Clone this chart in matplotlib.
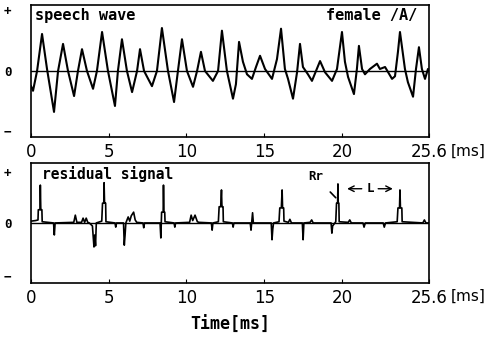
import matplotlib
matplotlib.use('Agg')
import matplotlib.pyplot as plt

# speech wave (female /A/): time [ms], amplitude
speech_t = [0.00, 0.13, 0.39, 0.71, 1.03, 1.48, 1.74, 2.06, 2.38, 2.77,
            3.02, 3.28, 3.60, 3.99, 4.24, 4.57, 4.95, 5.40, 5.59, 5.85,
            6.17, 6.50, 6.82, 7.01, 7.27, 7.78, 8.10, 8.42, 8.81, 9.20,
            9.45, 9.71, 10.03, 10.42, 10.68, 10.93, 11.19, 11.70, 12.03, 12.28,
            12.60, 12.99, 13.18, 13.38, 13.63, 13.89, 14.21, 14.47, 14.73, 15.05,
            15.50, 15.82, 16.08, 16.33, 16.53, 16.85, 17.11, 17.30, 17.49, 17.81,
            18.07, 18.59, 18.91, 19.36, 19.68, 20.00, 20.19, 20.39, 20.77, 20.96,
            21.09, 21.29, 21.48, 21.80, 22.25, 22.44, 22.77, 23.22, 23.41, 23.60,
            23.73, 24.05, 24.24, 24.57, 24.76, 24.95, 25.14, 25.34, 25.53, 25.60]
speech_v = [-0.23, -0.30, 0.00, 0.56, 0.03, -0.62, 0.00, 0.41, 0.00, -0.38,
            0.00, 0.33, 0.00, -0.27, 0.00, 0.59, 0.00, -0.53, 0.00, 0.48,
            0.00, -0.32, 0.00, 0.33, 0.00, -0.23, 0.00, 0.65, 0.00, -0.47,
            0.00, 0.48, 0.00, -0.24, 0.00, 0.29, 0.00, -0.15, 0.00, 0.61,
            0.00, -0.42, -0.20, 0.44, 0.14, -0.05, -0.12, 0.06, 0.23, 0.03,
            -0.12, 0.18, 0.64, 0.03, -0.12, -0.42, -0.02, 0.41, 0.06, -0.05,
            -0.15, 0.15, -0.02, -0.15, 0.03, 0.59, 0.14, -0.09, -0.35, 0.03,
            0.38, 0.03, -0.05, 0.03, 0.11, 0.03, 0.06, -0.12, -0.08, 0.29,
            0.59, 0.03, -0.17, -0.39, 0.03, 0.36, 0.03, -0.12, 0.03, 0.00]

# LPC residual signal
resid_t = [0.00, 0.30, 0.45, 0.47, 0.58, 0.60, 0.63, 0.70, 0.72, 1.45,
           1.50, 1.55, 2.75, 2.85, 2.95, 3.25, 3.35, 3.45, 3.55, 3.65,
           3.75, 3.95, 4.05, 4.10, 4.15, 4.20, 4.55, 4.60, 4.68, 4.70,
           4.73, 4.80, 4.82, 5.40, 5.45, 5.50, 5.95, 6.00, 6.05, 6.10,
           6.25, 6.35, 6.45, 6.60, 6.70, 6.80, 7.20, 7.25, 7.30, 8.30,
           8.35, 8.40, 8.50, 8.52, 8.55, 8.60, 8.62, 9.20, 9.25, 9.30,
           10.20, 10.30, 10.40, 10.55, 10.70, 10.80, 11.60, 11.65, 11.70, 12.05,
           12.10, 12.20, 12.25, 12.28, 12.35, 12.37, 12.95, 13.00, 13.05, 14.10,
           14.15, 14.25, 14.30, 15.45, 15.50, 15.55, 15.60, 15.95, 16.00, 16.10,
           16.15, 16.18, 16.25, 16.27, 16.55, 16.65, 16.75, 17.45, 17.50, 17.55,
           17.95, 18.05, 18.15, 19.30, 19.35, 19.40, 19.60, 19.65, 19.72, 19.74,
           19.76, 19.80, 19.82, 20.40, 20.50, 20.60, 21.35, 21.42, 21.50, 22.65,
           22.72, 22.80, 23.55, 23.60, 23.70, 23.73, 23.76, 23.85, 23.87, 25.20,
           25.30, 25.40, 25.60]
resid_v = [0.03, 0.04, 0.05, 0.22, 0.22, 0.63, 0.22, 0.22, 0.02, 0.00,
           -0.20, 0.00, 0.01, 0.13, 0.01, 0.01, 0.08, 0.01, 0.08, 0.01,
           0.00, -0.05, -0.40, -0.20, -0.38, 0.00, 0.03, 0.33, 0.33, 0.67,
           0.33, 0.33, 0.02, 0.00, -0.07, 0.00, 0.00, -0.37, -0.20, 0.00,
           0.10, 0.03, 0.12, 0.18, 0.05, 0.01, 0.00, -0.08, 0.00, 0.00,
           -0.25, 0.18, 0.18, 0.63, 0.18, 0.18, 0.02, 0.00, -0.07, 0.00,
           0.01, 0.13, 0.04, 0.13, 0.02, 0.01, 0.00, -0.12, 0.00, 0.02,
           0.27, 0.27, 0.55, 0.27, 0.27, 0.02, 0.00, -0.07, 0.00, 0.00,
           -0.12, 0.17, 0.00, 0.00, -0.28, -0.10, 0.00, 0.02, 0.25, 0.25,
           0.55, 0.25, 0.25, 0.03, 0.01, 0.06, 0.00, 0.00, -0.28, 0.00,
           0.01, 0.05, 0.00, 0.00, -0.17, -0.05, 0.02, 0.33, 0.33, 0.65,
           0.33, 0.33, 0.02, 0.01, 0.05, 0.00, 0.00, -0.07, 0.00, 0.00,
           -0.07, 0.00, 0.02, 0.25, 0.25, 0.55, 0.25, 0.25, 0.02, 0.00,
           0.05, 0.00, 0.00]

xticks = [0, 5, 10, 15, 20, 25.6]
xtick_labels = ['0', '5', '10', '15', '20', '25.6']
ytick_labels = ['+', '0', '\u2212']

mono = 'DejaVu Sans Mono'

fig = plt.figure(figsize=(4.89, 3.43), dpi=100)
ax1 = fig.add_axes([0.0634, 0.6006, 0.814, 0.385])
ax2 = fig.add_axes([0.0634, 0.175, 0.814, 0.35])

for ax, yt in [(ax1, [0.92, 0, -0.9]), (ax2, [0.85, 0, -0.88])]:
    ax.set_xlim(0, 25.6)
    ax.set_ylim(-1, 1)
    ax.axhline(0, color='black', linewidth=1.0)
    ax.set_xticks(xticks)
    ax.set_xticklabels(xtick_labels, fontsize=12)
    ax.set_yticks(yt)
    ax.set_yticklabels(ytick_labels, fontsize=9, fontweight='bold', family=mono)
    ax.tick_params(axis='x', direction='in', length=3, pad=4)
    ax.tick_params(axis='y', length=0, pad=14)
    for s in ax.spines.values():
        s.set_linewidth(1.2)
    ax.text(1.055, -0.11, '[ms]', transform=ax.transAxes, fontsize=11,
            ha='left', va='center')

ax1.plot(speech_t, speech_v, color='black', linewidth=1.5, solid_joinstyle='round')
ax1.text(0.01, 0.92, 'speech wave', transform=ax1.transAxes, fontsize=11,
         fontweight='bold', family=mono, va='center')
ax1.text(0.97, 0.92, 'female /A/', transform=ax1.transAxes, fontsize=11,
         fontweight='bold', family=mono, va='center', ha='right')

ax2.plot(resid_t, resid_v, color='black', linewidth=1.2)
ax2.text(0.028, 0.91, 'residual signal', transform=ax2.transAxes, fontsize=10.5,
         fontweight='bold', family=mono, va='center')

# Rr marker and pitch period L
ax2.annotate('Rr', xy=(19.6, 0.42), xytext=(18.3, 0.77), fontsize=9,
             fontweight='bold', family=mono, ha='center', va='center',
             arrowprops=dict(arrowstyle='-', color='black', lw=1.2,
                             shrinkA=6, shrinkB=0))
ax2.text(21.8, 0.57, 'L', fontsize=9, fontweight='bold', family=mono,
         ha='center', va='center')
ax2.annotate('', xy=(20.15, 0.57), xytext=(21.45, 0.57),
             arrowprops=dict(arrowstyle='->', color='black', lw=1.0))
ax2.annotate('', xy=(23.45, 0.57), xytext=(22.15, 0.57),
             arrowprops=dict(arrowstyle='->', color='black', lw=1.0))

fig.text(0.47, 0.052, 'Time[ms]', fontsize=12, fontweight='bold', family=mono,
         ha='center', va='center')

fig.savefig('out.png', dpi=100)
